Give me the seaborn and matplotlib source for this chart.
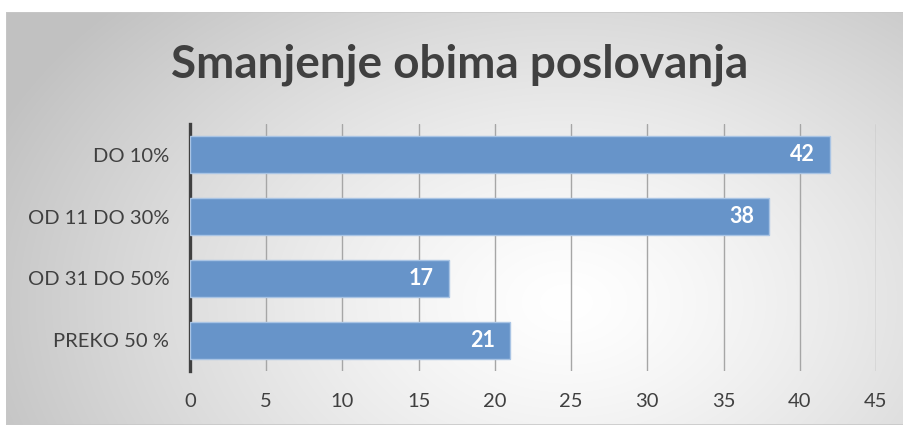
import numpy as np
import pandas as pd
import matplotlib
matplotlib.use('Agg')
import matplotlib.pyplot as plt
import seaborn as sns

# Chart data
categories = ['DO 10%', 'OD 11 DO 30%', 'OD 31 DO 50%', 'PREKO 50 %']
values = [42, 38, 17, 21]
x_ticks = [0, 5, 10, 15, 20, 25, 30, 35, 40, 45]
title = 'Smanjenje obima poslovanja'

df = pd.DataFrame({'kategorija': categories, 'vrijednost': values})

sns.set_theme(style='white')
plt.rcParams['font.family'] = ['Lato', 'DejaVu Sans']

W, H = 904, 425
fig = plt.figure(figsize=(W / 100, H / 100), dpi=100)
fig.patch.set_facecolor('white')

# Radial gradient background of the chart frame
bg = fig.add_axes([6 / W, 0, 1 - 6 / W, 1 - 12 / H])
yy, xx = np.mgrid[0:413, 0:898]
cx, cy = 560, 290
r = np.sqrt(((xx - cx) / 620) ** 2 + ((yy - cy) / 430) ** 2)
shade = 1.0 - 0.24 * np.clip(r, 0, 1) ** 1.3
bg.imshow(np.dstack([shade, shade, shade]), aspect='auto', extent=[0, 1, 0, 1],
          interpolation='bilinear')
bg.add_patch(plt.Rectangle((0, 0), 1, 1, fill=False, edgecolor='#c8c8c8',
                           linewidth=1.2, transform=bg.transAxes))
bg.set_axis_off()

ax = fig.add_axes([190 / W, 1 - 371 / H, (876 - 190) / W, (371 - 124) / H])
ax.patch.set_alpha(0)

sns.barplot(data=df, y='kategorija', x='vrijednost', ax=ax, orient='h',
            color='#6794c9', width=0.6, saturation=1,
            edgecolor='#a9c4e4', linewidth=1.0, zorder=3)

for bar, v in zip(ax.patches, values):
    ax.text(bar.get_width() - 1.0, bar.get_y() + bar.get_height() / 2, str(v),
            ha='right', va='center', color='white', fontsize=15.5,
            fontweight='bold', zorder=4)

ax.set_xlim(0, 45)
ax.set_ylim(3.5, -0.5)
ax.set_xticks(x_ticks)
ax.xaxis.grid(True, color='#a6a6a6', linewidth=1.0, zorder=0)
ax.set_axisbelow(True)
ax.set_xlabel('')
ax.set_ylabel('')
for s in ['top', 'right', 'bottom']:
    ax.spines[s].set_visible(False)
ax.spines['left'].set_color('#404040')
ax.spines['left'].set_linewidth(2.4)
ax.tick_params(axis='both', length=0, labelsize=14.5, labelcolor='#404040')
ax.tick_params(axis='x', pad=16)
ax.tick_params(axis='y', pad=15)

fig.text(460 / W, 1 - 65 / H, title, ha='center', va='center',
         fontsize=33, fontweight='bold', color='#404040')

fig.savefig('out.png', dpi=100)
